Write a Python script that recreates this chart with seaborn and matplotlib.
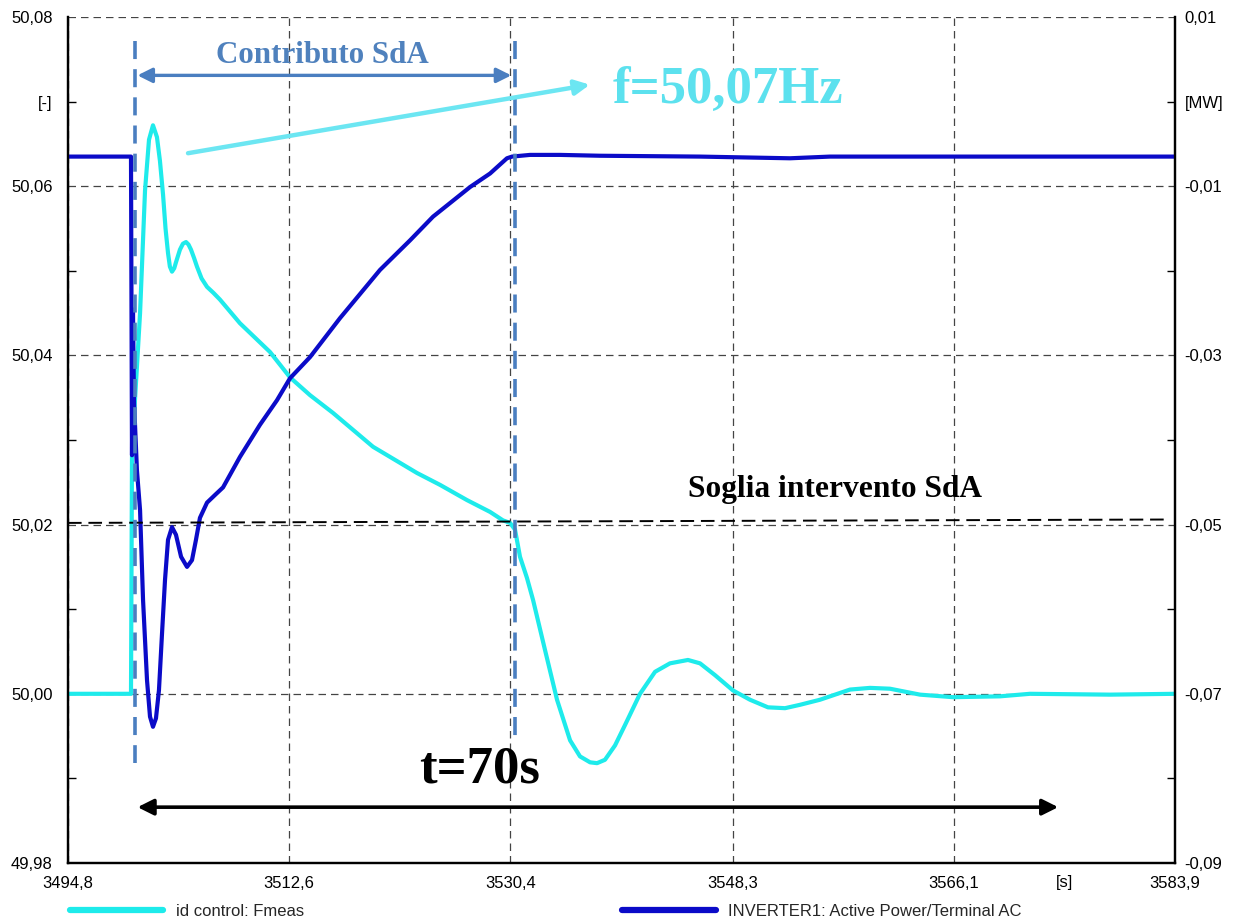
import matplotlib
matplotlib.use("Agg")
import matplotlib.pyplot as plt
import numpy as np
import pandas as pd
import seaborn as sns

# ---- measured frequency (left axis) ----
t_freq = [3494.8, 3499.87, 3499.95, 3500.19, 3500.60, 3501.00, 3501.32, 3501.64,
          3501.96, 3502.20, 3502.45, 3502.65, 3502.85, 3503.00, 3503.17, 3503.35,
          3503.49, 3503.81, 3504.05, 3504.30, 3504.50, 3504.70, 3504.95, 3505.18,
          3505.55, 3505.99, 3506.50, 3507.03, 3508.64, 3511.06, 3512.67, 3514.28,
          3516.13, 3519.35, 3522.89, 3524.74, 3526.91, 3528.77, 3529.81, 3530.38,
          3530.78, 3531.18, 3531.74, 3532.23, 3533.19, 3534.16, 3535.21, 3536.01,
          3536.82, 3537.38, 3538.02, 3538.83, 3539.63, 3540.84, 3542.05, 3543.25,
          3544.70, 3545.67, 3546.88, 3548.32, 3549.69, 3551.14, 3552.51, 3553.72,
          3555.33, 3557.74, 3559.35, 3560.96, 3563.38, 3566.03, 3569.81, 3572.23,
          3578.67, 3583.9]
f_meas = [50.0000, 50.0000, 50.0280, 50.0347, 50.0450, 50.0595, 50.0655, 50.0672,
          50.0658, 50.0630, 50.0590, 50.0550, 50.0521, 50.0505, 50.0499, 50.0503,
          50.0510, 50.0525, 50.0532, 50.0534, 50.0531, 50.0525, 50.0515, 50.0505,
          50.0491, 50.0481, 50.0474, 50.0466, 50.0438, 50.0404, 50.0374, 50.0353,
          50.0332, 50.0292, 50.0261, 50.0247, 50.0229, 50.0215, 50.0205, 50.0202,
          50.0194, 50.0162, 50.0137, 50.0111, 50.0052, 49.9993, 49.9945, 49.9926,
          49.9919, 49.9918, 49.9922, 49.9939, 49.9963, 50.0000, 50.0026, 50.0036,
          50.0040, 50.0036, 50.0022, 50.0004, 49.9993, 49.9984, 49.9983, 49.9987,
          49.9993, 50.0005, 50.0007, 50.0006, 49.9999, 49.9996, 49.9997, 50.0000,
          49.9999, 50.0000]

# ---- inverter active power (right axis) ----
t_pow = [3494.8, 3499.87, 3499.95, 3500.03, 3500.11, 3500.35, 3500.60, 3500.84,
         3501.16, 3501.40, 3501.64, 3501.88, 3502.12, 3502.37, 3502.61, 3502.85,
         3503.17, 3503.49, 3503.90, 3504.38, 3504.78, 3505.10, 3505.42, 3505.99,
         3506.63, 3507.28, 3508.64, 3510.25, 3511.62, 3512.67, 3514.28, 3516.69,
         3519.91, 3522.33, 3524.18, 3527.16, 3528.77, 3529.60, 3530.13, 3530.54,
         3531.99, 3534.40, 3537.62, 3545.67, 3552.91, 3556.13, 3583.9]
p_act = [-0.0065, -0.0065, -0.0418, -0.0246, -0.0353, -0.0436, -0.0483, -0.0589,
         -0.0684, -0.0727, -0.0739, -0.0729, -0.0696, -0.0628, -0.0565, -0.0518,
         -0.0503, -0.0512, -0.0538, -0.0550, -0.0542, -0.0518, -0.0492, -0.0474,
         -0.0465, -0.0456, -0.0420, -0.0382, -0.0353, -0.0327, -0.0302, -0.0256,
         -0.0199, -0.0164, -0.0136, -0.0101, -0.0085, -0.0074, -0.0067, -0.0065,
         -0.0063, -0.0063, -0.0064, -0.0065, -0.0067, -0.0065, -0.0065]

# ---- axes ticks and labels ----
x_major = [3494.8, 3512.6, 3530.4, 3548.3, 3566.1, 3583.9]
x_major_labels = ["3494,8", "3512,6", "3530,4", "3548,3", "3566,1", "3583,9"]
x_minor = [3503.7, 3521.5, 3539.35, 3557.2, 3575.0]
x_minor_labels = ["", "", "", "", "[s]"]

yl_major = [49.98, 50.00, 50.02, 50.04, 50.06, 50.08]
yl_major_labels = ["49,98", "50,00", "50,02", "50,04", "50,06", "50,08"]
yl_minor = [49.99, 50.01, 50.03, 50.05, 50.07]
yl_minor_labels = ["", "", "", "", "[-]"]

yr_major = [-0.09, -0.07, -0.05, -0.03, -0.01, 0.01]
yr_major_labels = ["-0,09", "-0,07", "-0,05", "-0,03", "-0,01", "0,01"]
yr_minor = [-0.08, -0.06, -0.04, -0.02, 0.00]
yr_minor_labels = ["", "", "", "", "[MW]"]

# ---- annotations ----
legend_labels = ["id control: Fmeas", "INVERTER1: Active Power/Terminal AC"]
t_start_sda = 3500.19
t_end_sda = 3530.78
f_threshold = [50.0202, 50.0206]
t_threshold = [3494.8, 3583.1]

CYAN = "#1EEBEB"
BLUE = "#0B0BC8"
STEEL = "#4A7EC0"
SERIF = ["Liberation Serif", "DejaVu Serif"]

sns.set_style("white")
plt.rcParams["font.family"] = ["Liberation Sans", "DejaVu Sans"]

fig = plt.figure(figsize=(12.36, 9.19), dpi=100)
ax = fig.add_axes([68 / 1236, 1 - 863 / 919, (1175 - 68) / 1236, (863 - 17) / 919])

df_f = pd.DataFrame({"t": t_freq, "f": f_meas})
df_p = pd.DataFrame({"t": t_pow, "p": p_act})

sns.lineplot(data=df_f, x="t", y="f", ax=ax, color=CYAN, lw=3.0,
             estimator=None, sort=False)
ax2 = ax.twinx()
sns.lineplot(data=df_p, x="t", y="p", ax=ax2, color=BLUE, lw=3.0,
             estimator=None, sort=False)

for a in (ax, ax2):
    a.set_xlim(x_major[0], x_major[-1])
    a.set_xlabel("")
    a.set_ylabel("")
ax.set_ylim(yl_major[0], yl_major[-1])
ax2.set_ylim(yr_major[0], yr_major[-1])

ax.set_xticks(x_major)
ax.set_xticklabels(x_major_labels)
ax.set_xticks(x_minor, minor=True)
ax.set_xticklabels(x_minor_labels, minor=True)
ax.set_yticks(yl_major)
ax.set_yticklabels(yl_major_labels)
ax.set_yticks(yl_minor, minor=True)
ax.set_yticklabels(yl_minor_labels, minor=True)
ax2.set_yticks(yr_major)
ax2.set_yticklabels(yr_major_labels)
ax2.set_yticks(yr_minor, minor=True)
ax2.set_yticklabels(yr_minor_labels, minor=True)

ax.tick_params(axis="x", which="both", direction="in", length=6, width=1,
               labelsize=12, pad=9, colors="black")
ax.tick_params(axis="y", which="both", direction="in", length=6, width=1,
               labelsize=12, pad=11, colors="black")
ax2.tick_params(axis="y", which="both", direction="in", length=6, width=1,
                labelsize=12, pad=7, colors="black")
ax.tick_params(axis="x", which="major", length=0)
ax.tick_params(axis="y", which="major", length=0)
ax2.tick_params(axis="y", which="major", length=0)

ax.grid(True, which="major", color="#444444", lw=0.9, ls=(0, (6, 4)))
ax.set_axisbelow(True)

for a in (ax, ax2):
    a.spines["top"].set_visible(False)
    for s in ("left", "right", "bottom"):
        a.spines[s].set_color("black")
        a.spines[s].set_linewidth(1.6)

# threshold line
ax2.plot(t_threshold, f_threshold, transform=ax.transData, color="black",
         lw=1.4, ls=(0, (7, 3.5)))
ax2.text(3544.7, 50.0241, "Soglia intervento SdA", transform=ax.transData,
         family=SERIF, weight="bold", fontsize=22.6,
         color="black", ha="left", va="center")

# start / end markers of the SdA contribution
for tx, fy in ((t_start_sda, 49.9918), (t_end_sda, 49.9945)):
    ax2.plot([tx, tx], [50.0772, fy], transform=ax.transData, color=STEEL,
             lw=2.6, ls=(0, (5, 2.8)))

ax2.annotate("", xy=(t_start_sda + 0.2, 50.0731), xytext=(t_end_sda - 0.3, 50.0731),
             xycoords=ax.transData, textcoords=ax.transData,
             arrowprops=dict(arrowstyle="<|-|>", color=STEEL, lw=2.4,
                             mutation_scale=22, shrinkA=0, shrinkB=0))
ax2.text(3515.3, 50.0755, "Contributo SdA",
         transform=ax.transData, family=SERIF,
         weight="bold", fontsize=22.3, color="#4F81BD", ha="center", va="center")

# pointer to the frequency peak value
ax2.annotate("", xy=(3536.8, 50.0720), xytext=(3504.46, 50.0639),
             xycoords=ax.transData, textcoords=ax.transData,
             arrowprops=dict(arrowstyle="-|>", color="#6CE6F2", lw=3.2,
                             mutation_scale=22, shrinkA=0, shrinkB=0))
ax2.text(3538.6, 50.0714, "f=50,07Hz", transform=ax.transData,
         family=SERIF, weight="bold", fontsize=38,
         color="#5CE1EE", ha="left", va="center")

# duration arrow
ax2.annotate("", xy=(3500.4, 49.9866), xytext=(3574.5, 49.9866),
             xycoords=ax.transData, textcoords=ax.transData,
             arrowprops=dict(arrowstyle="<|-|>", color="black", lw=2.6,
                             mutation_scale=24, shrinkA=0, shrinkB=0))
ax2.text(3527.9, 49.9910, "t=70s", transform=ax.transData,
         family=SERIF, weight="bold", fontsize=38,
         color="black", ha="center", va="center")

# legend below the plot
h1 = ax.get_lines()[0]
h2 = ax2.get_lines()[0]
leg = fig.legend([h1, h2], legend_labels, loc="lower left",
                 bbox_to_anchor=(55 / 1236, -0.016), ncol=2, frameon=False,
                 fontsize=12, handlelength=5.6, handletextpad=0.75,
                 columnspacing=19.1)
for lh in leg.legend_handles:
    lh.set_linewidth(4.5)

fig.savefig("out.png", dpi=100)
